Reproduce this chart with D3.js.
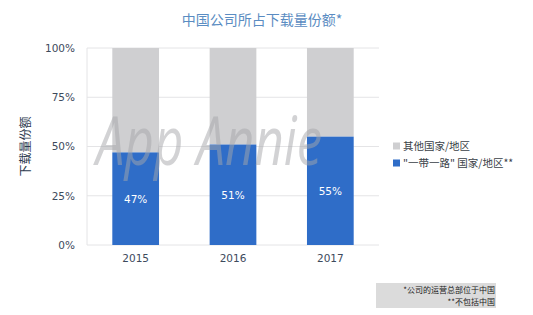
<!DOCTYPE html>
<html>
<head>
<meta charset="utf-8">
<script src="https://cdn.jsdelivr.net/npm/d3@7"></script>
<style>
  html, body { margin: 0; padding: 0; background: #fff; }
  svg { display: block; font-family: "Noto Sans CJK SC", "Noto Sans", sans-serif; }
</style>
</head>
<body>
<div id="chart"></div>
<script>
  const years = ['2015', '2016', '2017'];
  const beltRoad = [47, 51, 55];
  const others = [53, 49, 45];
  const yTicks = [0, 25, 50, 75, 100];
  const legendLabels = ['其他国家/地区', '"一带一路" 国家/地区**'];
  const colors = ['#cfcfd1', '#2f6dc8'];

  const W = 533, H = 315;
  const svg = d3.select('#chart').append('svg')
    .attr('width', W).attr('height', H);

  const x = d3.scaleBand()
    .domain(years)
    .range([87, 379])
    .paddingInner(0.52)
    .paddingOuter(0.26);

  const y = d3.scaleLinear()
    .domain([0, 100])
    .range([245, 48]);

  // Titel
  svg.append('text')
    .attr('x', 262).attr('y', 25)
    .attr('text-anchor', 'middle')
    .attr('fill', '#5a8cc2')
    .attr('font-size', 14)
    .text('中国公司所占下载量份额*');

  // Gitterlinien
  svg.append('g')
    .selectAll('line')
    .data(yTicks)
    .enter().append('line')
      .attr('x1', 87).attr('x2', 379)
      .attr('y1', d => y(d)).attr('y2', d => y(d))
      .attr('stroke', '#e4e4e6').attr('stroke-width', 1);

  svg.append('line')
    .attr('x1', 87).attr('x2', 87)
    .attr('y1', y(100)).attr('y2', y(0))
    .attr('stroke', '#e4e4e6');

  // Y-Achse
  svg.append('g')
    .attr('transform', 'translate(78,0)')
    .call(d3.axisLeft(y).tickValues(yTicks).tickFormat(d => d + '%').tickSize(0))
    .call(g => g.select('.domain').remove())
    .call(g => g.selectAll('text')
      .attr('fill', '#3d4a5c')
      .attr('font-family', '"DejaVu Sans", sans-serif')
      .attr('font-size', 10.5));

  svg.append('text')
    .attr('transform', `translate(30,${y(50)}) rotate(-90)`)
    .attr('text-anchor', 'middle')
    .attr('fill', '#2c3a4e')
    .attr('font-size', 12)
    .text('下载量份额');

  // Balken
  svg.append('g').selectAll('rect')
    .data(years)
    .enter().append('rect')
      .attr('x', d => x(d))
      .attr('y', (d, i) => y(beltRoad[i] + others[i]))
      .attr('width', x.bandwidth())
      .attr('height', (d, i) => y(beltRoad[i]) - y(beltRoad[i] + others[i]))
      .attr('fill', colors[0]);

  svg.append('g').selectAll('rect')
    .data(years)
    .enter().append('rect')
      .attr('x', d => x(d))
      .attr('y', (d, i) => y(beltRoad[i]))
      .attr('width', x.bandwidth())
      .attr('height', (d, i) => y(0) - y(beltRoad[i]))
      .attr('fill', colors[1]);

  // Wasserzeichen
  svg.append('text')
    .attr('x', 96).attr('y', 165)
    .attr('font-size', 68)
    .attr('font-style', 'italic')
    .attr('font-family', '"Liberation Sans Narrow", "Open Sans", sans-serif')
    .attr('textLength', 226)
    .attr('lengthAdjust', 'spacingAndGlyphs')
    .attr('fill', '#a6a7ab')
    .attr('opacity', 0.5)
    .text('App Annie');

  // Balkenbeschriftung
  svg.append('g').selectAll('text')
    .data(years)
    .enter().append('text')
      .attr('x', d => x(d) + x.bandwidth() / 2)
      .attr('y', (d, i) => (y(0) + y(beltRoad[i])) / 2 + 4)
      .attr('text-anchor', 'middle')
      .attr('fill', '#fff')
      .attr('font-size', 10.5)
      .attr('font-family', '"DejaVu Sans", sans-serif')
      .text((d, i) => beltRoad[i] + '%');

  // X-Achse
  svg.append('g')
    .attr('transform', 'translate(0,252)')
    .call(d3.axisBottom(x).tickSize(0))
    .call(g => g.select('.domain').remove())
    .call(g => g.selectAll('text')
      .attr('fill', '#3d4a5c')
      .attr('font-size', 10.5)
      .attr('font-family', '"DejaVu Sans", sans-serif'));

  // Legende
  const legend = svg.append('g').attr('transform', 'translate(393,146)');
  legendLabels.forEach((label, i) => {
    const row = legend.append('g').attr('transform', `translate(0,${i * 17})`);
    row.append('rect')
      .attr('x', 0).attr('y', -3.5)
      .attr('width', 7).attr('height', 7)
      .attr('fill', colors[i]);
    row.append('text')
      .attr('x', 10).attr('y', 4)
      .attr('fill', '#3a3f47')
      .attr('font-size', 10.5)
      .text(label);
  });

  // Fußnote
  svg.append('rect')
    .attr('x', 376).attr('y', 283)
    .attr('width', 120).attr('height', 25)
    .attr('fill', '#cfcfcf')
    .attr('opacity', 0.75);
  svg.append('text')
    .attr('x', 495).attr('y', 293)
    .attr('text-anchor', 'end')
    .attr('fill', '#222')
    .attr('font-size', 8)
    .text('*公司的运营总部位于中国');
  svg.append('text')
    .attr('x', 495).attr('y', 305)
    .attr('text-anchor', 'end')
    .attr('fill', '#222')
    .attr('font-size', 8)
    .text('**不包括中国');
</script>
</body>
</html>
